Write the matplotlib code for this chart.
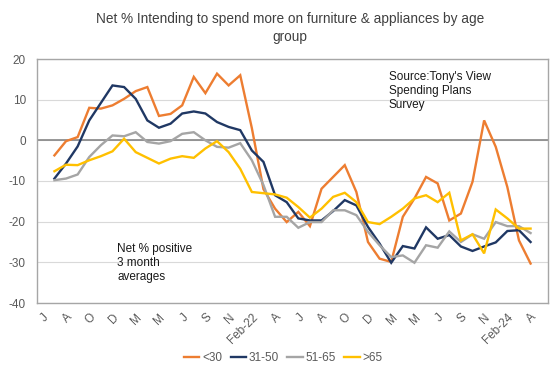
import matplotlib
matplotlib.use("Agg")
import matplotlib.pyplot as plt
import numpy as np

plt.rcParams['font.family'] = ['Liberation Sans', 'DejaVu Sans']

tick_labels = ["J", "A", "O", "D", "M", "M", "J", "S", "N", "Feb-22", "A",
               "J", "A", "O", "D", "M", "M", "J", "S", "N", "Feb-24", "A"]
n_categories = 44
first_data_index = 1

under_30 = [-3.7, -0.2, 0.8, 8.0, 7.8, 8.6, 10.2, 12.1, 13.1, 6.0, 6.5, 8.6, 15.6, 11.6,
            16.4, 13.5, 16.0, 3.0, -12.0, -16.8, -20.1, -17.6, -21.1, -11.9, -9.0, -6.1,
            -12.7, -25.0, -29.1, -29.9, -18.8, -14.3, -9.0, -10.6, -19.7, -18.0, -10.2,
            4.9, -1.6, -11.5, -24.6, -30.3]
age_31_50 = [-9.4, -5.7, -1.5, 4.9, 9.2, 13.5, 13.1, 10.2, 4.9, 3.1, 4.1, 6.6, 7.1, 6.6,
             4.5, 3.3, 2.5, -2.5, -5.3, -13.5, -15.2, -19.2, -19.7, -19.7, -17.4, -14.7,
             -16.0, -21.3, -25.4, -30.1, -26.0, -26.6, -21.4, -24.2, -23.3, -26.1, -27.2,
             -26.1, -25.1, -22.3, -22.1, -25.0]
age_51_65 = [-9.8, -9.4, -8.4, -4.1, -1.2, 1.2, 1.0, 2.0, -0.4, -0.8, -0.2, 1.6, 2.0, 0.0,
             -1.6, -1.8, -0.7, -4.9, -11.0, -18.8, -18.8, -21.5, -20.1, -20.1, -17.2, -17.2,
             -18.4, -22.5, -25.8, -28.7, -28.3, -30.1, -25.8, -26.4, -22.4, -25.0, -23.1,
             -24.2, -20.1, -21.1, -21.1, -22.8]
over_65 = [-7.6, -6.0, -6.1, -4.9, -3.9, -2.7, 0.4, -2.9, -4.3, -5.7, -4.5, -3.9, -4.3, -2.0,
           -0.2, -2.9, -7.0, -12.7, -13.0, -13.3, -14.1, -16.4, -19.0, -16.8, -13.9, -12.9,
           -15.2, -20.1, -20.6, -18.8, -16.8, -14.3, -13.5, -15.2, -12.9, -24.6, -23.1,
           -27.8, -17.0, -19.2, -21.7, -21.7]

series = [("<30", under_30, "#ED7D31"),
          ("31-50", age_31_50, "#203864"),
          ("51-65", age_51_65, "#A5A5A5"),
          (">65", over_65, "#FFC000")]

fig = plt.figure(figsize=(5.58, 3.70), dpi=100)
ax = fig.add_axes([37/558, 1 - 303/370, 511/558, 244/370])

x = np.arange(first_data_index, first_data_index + len(under_30))
for name, vals, col in series:
    ax.plot(x, vals, color=col, lw=1.7, label=name, solid_joinstyle='miter')

ax.set_xlim(-0.5, n_categories - 0.5)
ax.set_ylim(-40, 20)
ax.set_yticks(np.arange(-40, 21, 10))
ax.set_yticklabels([str(v) for v in range(-40, 21, 10)])
ax.set_xticks(np.arange(0, n_categories, 2))
ax.set_xticklabels(tick_labels, rotation=45, ha='right', rotation_mode='anchor')
ax.tick_params(axis='both', length=0, colors='#595959', labelsize=8.5)
ax.tick_params(axis='x', pad=6)
ax.tick_params(axis='y', pad=8)
ax.grid(axis='y', color='#D9D9D9', lw=0.8)
ax.set_axisbelow(True)
ax.axhline(0, color='#868686', lw=1.2, zorder=1.5)
for s in ax.spines.values():
    s.set_color('#A6A6A6')
    s.set_linewidth(1.0)

fig.text(0.52, 0.968, "Net % Intending to spend more on furniture & appliances by age\ngroup",
         ha='center', va='top', fontsize=9.8, color='#404040', linespacing=1.35)

ax.text(0.688, 0.95, "Source:Tony's View\nSpending Plans\nSurvey", transform=ax.transAxes,
        ha='left', va='top', fontsize=8.5, color='#1a1a1a', linespacing=1.2)
ax.text(0.157, 0.245, "Net % positive\n3 month\naverages", transform=ax.transAxes,
        ha='left', va='top', fontsize=8.5, color='#1a1a1a', linespacing=1.2)

fig.legend(loc='center', bbox_to_anchor=(0.508, 0.033), ncol=4, frameon=False,
           fontsize=8.5, handlelength=1.3, handletextpad=0.25, columnspacing=0.7,
           labelcolor='#595959')

fig.savefig("out.png", dpi=100)
